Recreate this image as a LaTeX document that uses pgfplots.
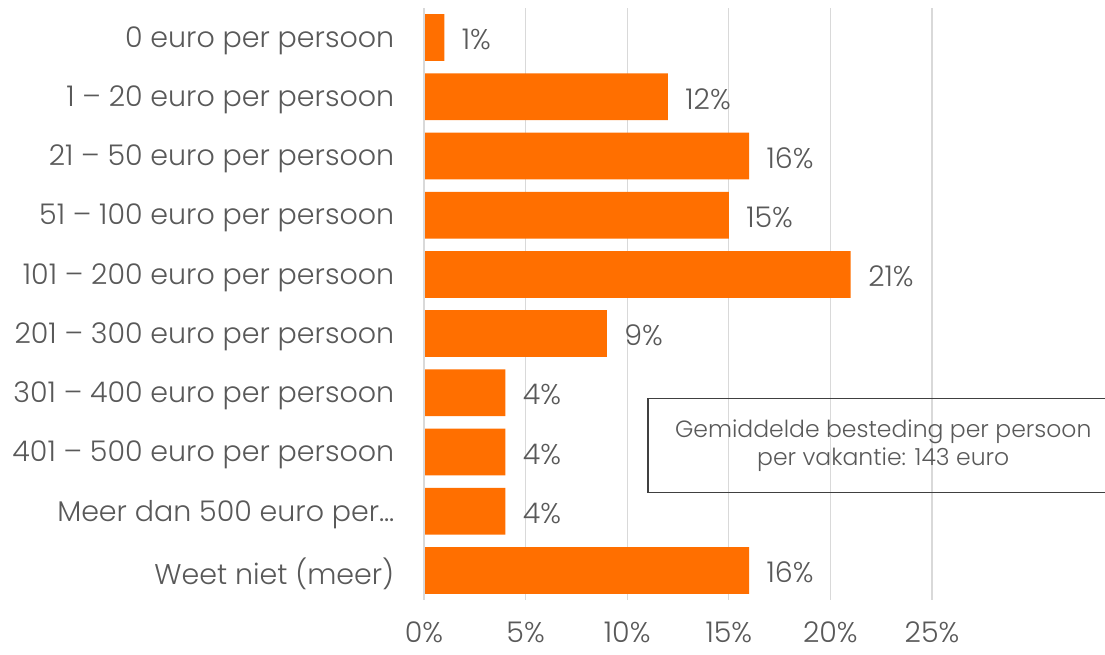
\documentclass[border=0pt]{standalone}
\usepackage{fontspec}
\setmainfont{Poppins}[UprightFont=* Light]
\usepackage{pgfplots}
\pgfplotsset{compat=1.18}
\definecolor{barorange}{HTML}{FF6F00}
\definecolor{txtgray}{HTML}{595959}
\definecolor{gridgray}{HTML}{D9D9D9}
\begin{document}
\begin{tikzpicture}[x=1pt,y=1pt]
\begin{axis}[
  at={(424pt,54pt)}, anchor=south west,
  scale only axis, width=508pt, height=592pt,
  xmin=0, xmax=25, ymin=-0.5, ymax=9.5,
  y dir=reverse,
  xbar, bar width=0.79,
  axis line style={draw=none},
  xmajorgrids, major grid style={gridgray, line width=1.3pt},
  xtick={0,5,10,15,20,25},
  xticklabel={\pgfmathprintnumber{\tick}\%},
  /pgf/number format/assume math mode=true,
  ytick={0,...,9},
  yticklabels={0 euro per persoon, 1 – 20 euro per persoon, 21 – 50 euro per persoon, 51 – 100 euro per persoon, 101 – 200 euro per persoon, 201 – 300 euro per persoon, 301 – 400 euro per persoon, 401 – 500 euro per persoon, Meer dan 500 euro per…, Weet niet (meer)},
  tick style={draw=none},
  ticklabel style={font=\fontsize{28.5}{32}\selectfont, text=txtgray},
  yticklabel style={xshift=-22pt, yshift=-3pt},
  xticklabel style={inner sep=0pt, yshift=-22pt},
  nodes near coords={\pgfmathprintnumber{\pgfplotspointmeta}\%},
  nodes near coords style={font=\fontsize{28.5}{32}\selectfont, text=txtgray, anchor=west, xshift=14pt, yshift=-2pt},
  point meta=explicit,
  clip=false,
]
\addplot[fill=barorange, draw=none] coordinates {
 (1,0) [1]
 (12,1) [12]
 (16,2) [16]
 (15,3) [15]
 (21,4) [21]
 (9,5) [9]
 (4,6) [4]
 (4,7) [4]
 (4,8) [4]
 (16,9) [16]
};
\draw[draw=gridgray, line width=1.3pt] (axis cs:0,-0.5) -- (axis cs:0,9.5);
\draw[draw=black!75, line width=1.2pt] (axis cs:11.02,6.09) rectangle (axis cs:34,7.68);
\node[font=\fontsize{23.5}{28}\selectfont, text=txtgray, align=center] at (axis cs:22.6,6.885) {Gemiddelde besteding per persoon\\per vakantie: 143 euro};
\end{axis}
\pgfresetboundingbox
\path[use as bounding box] (0,0) rectangle (1105,654);
\end{tikzpicture}
\end{document}
